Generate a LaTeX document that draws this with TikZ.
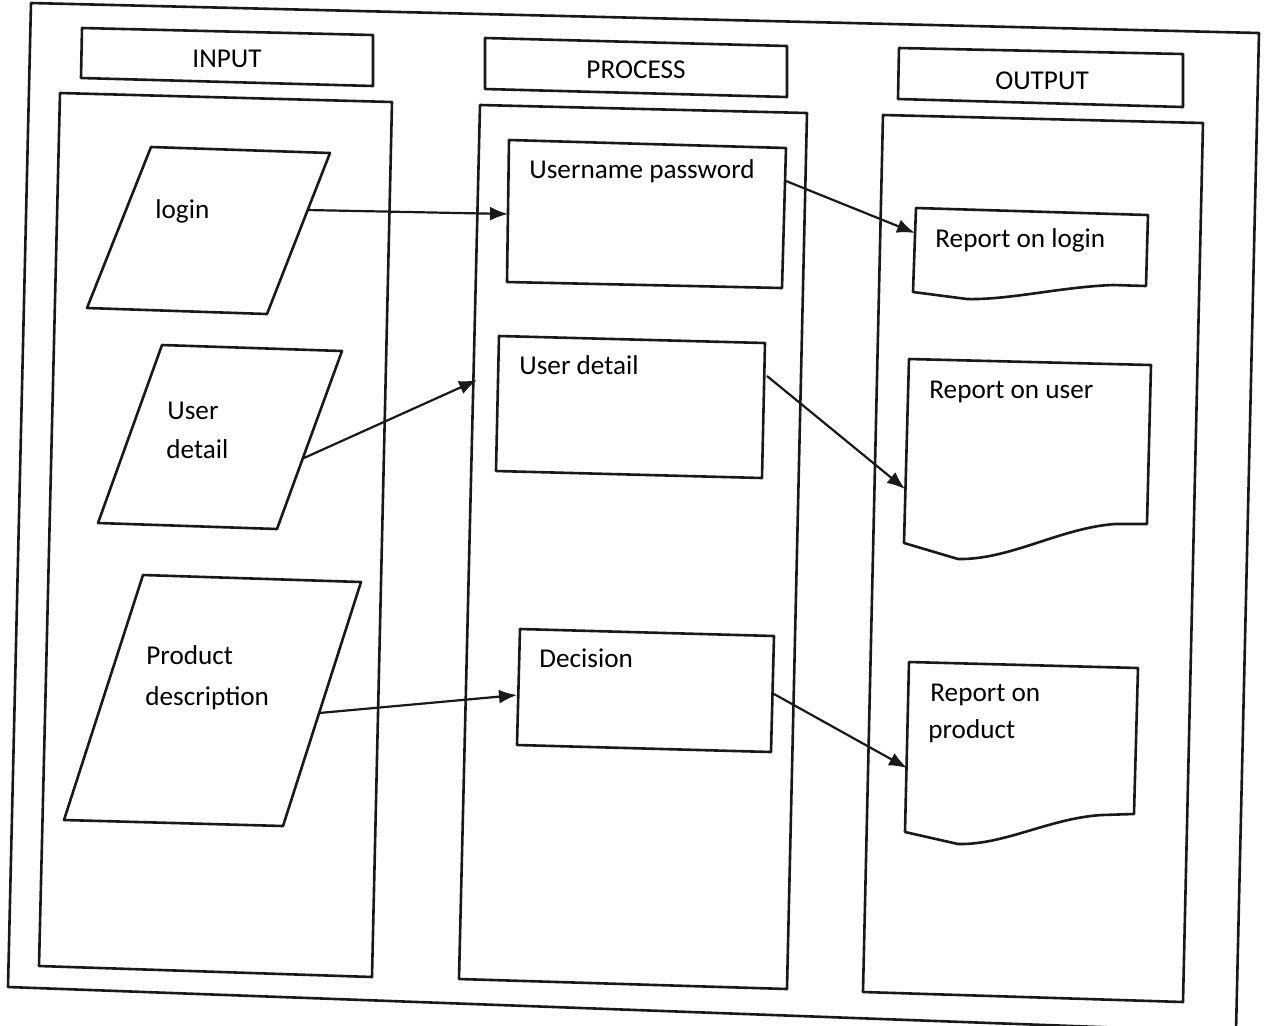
\documentclass[tikz,border=0pt]{standalone}
\usepackage{fontspec}
\setmainfont{Carlito}
\usetikzlibrary{arrows.meta}
\begin{document}
\begin{tikzpicture}[x=0.5pt,y=-0.5pt,line join=round,
  frame/.style={draw=black!90,line width=1.3pt},
  txt/.style={anchor=base west,inner sep=0pt,text=black,font=\fontsize{13.6}{16}\selectfont},
  hdr/.style={anchor=base,inner sep=0pt,text=black,font=\fontsize{13.6}{16}\selectfont},
  flow/.style={draw=black!90,line width=1.1pt,-{Latex[length=9pt,width=7pt]}}]
\useasboundingbox[fill=white] (0,0) rectangle (1266,1025);

% outer frame
\draw[frame] (31,3) -- (1259,33) -- (1236,1032) -- (8,987) -- cycle;

% column headers
\draw[frame] (82,28) -- (373,35) -- (373,86) -- (81,78) -- cycle;
\node[hdr] (hin) at (227,67) {INPUT};
\draw[frame] (485,38) -- (787,46) -- (787,97) -- (485,89) -- cycle;
\node[hdr] (hproc) at (636,78) {PROCESS};
\draw[frame] (899,48) -- (1183,54) -- (1183,107) -- (898,99) -- cycle;
\node[hdr] (hout) at (1042,89) {OUTPUT};

% column bodies
\draw[frame] (60,93) -- (392,102) -- (372,977) -- (39,966) -- cycle;
\draw[frame] (480,105) -- (807,113) -- (787,989) -- (459,979) -- cycle;
\draw[frame] (883,115) -- (1203,123) -- (1183,1002) -- (863,992) -- cycle;

% input parallelograms
\draw[frame] (151,147) -- (330,153) -- (267,314) -- (87,308) -- cycle;
\node[txt] (login) at (155,218) {login};
\draw[frame] (162,345) -- (342,351) -- (277,529) -- (98,523) -- cycle;
\node[txt] (user1) at (167,419) {User};
\node[txt] (user2) at (166,458) {detail};
\draw[frame] (143,575) -- (361,582) -- (283,826) -- (64,820) -- cycle;
\node[txt] (prod1) at (146,664) {Product};
\node[txt] (prod2) at (145,705) {description};

% process boxes
\draw[frame] (509,140) -- (786,148) -- (782,288) -- (507,282) -- cycle;
\node[txt] (userpass) at (529,178) {Username password};
\draw[frame] (499,336) -- (765,343) -- (762,478) -- (496,471) -- cycle;
\node[txt] (udetail) at (519,374) {User detail};
\draw[frame] (520,629) -- (774,636) -- (771,752) -- (517,745) -- cycle;
\node[txt] (decision) at (539,667) {Decision};

% output documents
\draw[frame] (916,208) -- (1148,215) -- (1146,286) -- (1113,285)
  .. controls (1060,287) and (1010,300) .. (967,299) -- (913,292) -- cycle;
\node[txt] (replogin) at (935,247) {Report on login};
\draw[frame] (909,359) -- (1151,365) -- (1147,524) -- (1115,524)
  .. controls (1060,528) and (1010,560) .. (958,559) -- (904,543) -- cycle;
\node[txt] (repuser) at (929,398) {Report on user};
\draw[frame] (909,662) -- (1138,668) -- (1134,814) -- (1102,815)
  .. controls (1050,818) and (1005,845) .. (958,844) -- (905,832) -- cycle;
\node[txt] (repprod1) at (930,701) {Report on};
\node[txt] (repprod2) at (928,738) {product};

% connector ends
\coordinate (loginOut) at (307,210);
\coordinate (userpassIn) at (508,214);
\coordinate (userpassOut) at (786,181);
\coordinate (reploginIn) at (915,233);
\coordinate (userOut) at (304,458);
\coordinate (udetailIn) at (477,380);
\coordinate (udetailOut) at (767,376);
\coordinate (repuserIn) at (905,489);
\coordinate (prodOut) at (319,713);
\coordinate (decisionIn) at (517,695);
\coordinate (decisionOut) at (774,694);
\coordinate (repprodIn) at (907,768);

% connectors
\draw[flow] (loginOut) -- (userpassIn);
\draw[flow] (userpassOut) -- (reploginIn);
\draw[flow] (userOut) -- (udetailIn);
\draw[flow] (udetailOut) -- (repuserIn);
\draw[flow] (prodOut) -- (decisionIn);
\draw[flow] (decisionOut) -- (repprodIn);
\end{tikzpicture}
\end{document}
